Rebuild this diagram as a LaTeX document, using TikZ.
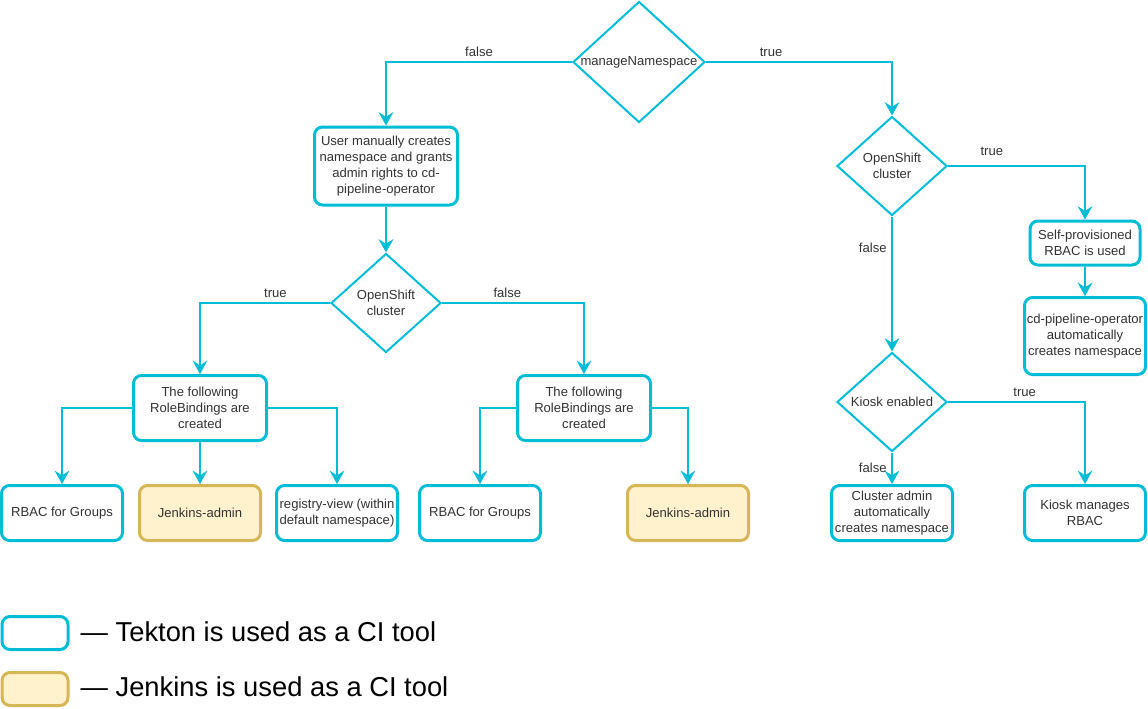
\documentclass[tikz,border=0pt]{standalone}
\usepackage{fontspec}
\setmainfont{Liberation Sans}
\usetikzlibrary{shapes.geometric,arrows.meta}
\definecolor{tekton}{HTML}{00BCD4}
\definecolor{jenkinsfill}{HTML}{FFF2CC}
\definecolor{jenkinsdraw}{HTML}{D6B656}
\definecolor{txt}{HTML}{333333}

\begin{document}
\begin{tikzpicture}[x=0.75pt,y=-0.75pt,font=\fontsize{9.8}{12}\selectfont,text=txt]
  \useasboundingbox (0,0) rectangle (1148,708);
  \tikzstyle{Box}=[draw=tekton,line width=2.25pt,rounded corners=6pt,fill=white,align=center,
    minimum width=90.75pt,minimum height=41.25pt,inner sep=0.5pt]
  \tikzstyle{JBox}=[Box,draw=jenkinsdraw,fill=jenkinsfill]
  \tikzstyle{Dia}=[diamond,draw=tekton,line width=1.5pt,inner sep=0pt,align=center]
  \tikzstyle{EdgeStyle}=[draw=tekton,line width=1.5pt,-{Stealth[length=10pt,width=11pt,inset=3.5pt]}]
  % decisions
  \node[Dia,minimum width=99pt,minimum height=90.75pt,label=center:manageNamespace] (manage) at (639,62) {};
  \node[Dia,minimum width=82.5pt,minimum height=74.25pt,label={[align=center]center:OpenShift\\cluster}] (osLeft) at (386,303) {};
  \node[Dia,minimum width=82.5pt,minimum height=74.25pt,label={[align=center]center:OpenShift\\cluster}] (osRight) at (892,166) {};
  \node[Dia,minimum width=82.5pt,minimum height=74.25pt,label=center:Kiosk enabled] (kiosk) at (892,402) {};
  % boxes
  \node[Box,minimum width=107.25pt,minimum height=58.5pt] (manual) at (386,166)
    {User manually creates\\namespace and grants\\admin rights to cd-\\pipeline-operator};
  \node[Box,minimum width=99.75pt,minimum height=48.75pt] (rbA) at (200,408) {The following\\RoleBindings are\\created};
  \node[Box,minimum width=99.75pt,minimum height=48.75pt] (rbB) at (584,408) {The following\\RoleBindings are\\created};
  \node[Box] (groupsA) at (62,513) {RBAC for Groups};
  \node[JBox] (jenkinsA) at (200,513) {Jenkins-admin};
  \node[Box] (registry) at (337,513) {registry-view (within\\default namespace)};
  \node[Box] (groupsB) at (480,513) {RBAC for Groups};
  \node[JBox] (jenkinsB) at (688,513) {Jenkins-admin};
  \node[Box,minimum width=82.5pt,minimum height=33pt] (selfprov) at (1085,243) {Self-provisioned\\RBAC is used};
  \node[Box,minimum height=57.75pt] (operator) at (1085,336) {cd-pipeline-operator\\automatically\\creates namespace};
  \node[Box] (clusteradmin) at (892,513) {Cluster admin\\automatically\\creates namespace};
  \node[Box] (kioskrbac) at (1085,513) {Kiosk manages\\RBAC};
  % connectors
  \draw[EdgeStyle] (manage.west) -| (manual) node[pos=0.25,above] {false};
  \draw[EdgeStyle] (manage.east) -| (osRight) node[pos=0.175,above] {true};
  \draw[EdgeStyle] (manual) -- (osLeft);
  \draw[EdgeStyle] (osLeft.west) -| (rbA) node[pos=0.21,above] {true};
  \draw[EdgeStyle] (osLeft.east) -| (rbB) node[pos=0.23,above] {false};
  \draw[EdgeStyle] (rbA.west) -| (groupsA);
  \draw[EdgeStyle] (rbA) -- (jenkinsA);
  \draw[EdgeStyle] (rbA.east) -| (registry);
  \draw[EdgeStyle] (rbB.west) -| (groupsB);
  \draw[EdgeStyle] (rbB.east) -| (jenkinsB);
  \draw[EdgeStyle] (osRight.east) -| (selfprov) node[pos=0.16,above,yshift=4pt] {true};
  \draw[EdgeStyle] (osRight) -- (kiosk) node[pos=0.23,left] {false};
  \draw[EdgeStyle] (selfprov) -- (operator);
  \draw[EdgeStyle] (kiosk.east) -| (kioskrbac) node[pos=0.28,above] {true};
  \draw[EdgeStyle] (kiosk) -- (clusteradmin) node[midway,left] {false};
  % legend
  \node[Box,minimum width=49.5pt,minimum height=24.75pt] (keyTekton) at (35,633) {};
  \node[JBox,minimum width=49.5pt,minimum height=24.75pt] (keyJenkins) at (35,689) {};
  \node[anchor=west,font=\fontsize{20.5}{23}\selectfont,text=black] (txtTekton) at (76,632) {— Tekton is used as a CI tool};
  \node[anchor=west,font=\fontsize{20.5}{23}\selectfont,text=black] (txtJenkins) at (76,687) {— Jenkins is used as a CI tool};
\end{tikzpicture}
\end{document}
